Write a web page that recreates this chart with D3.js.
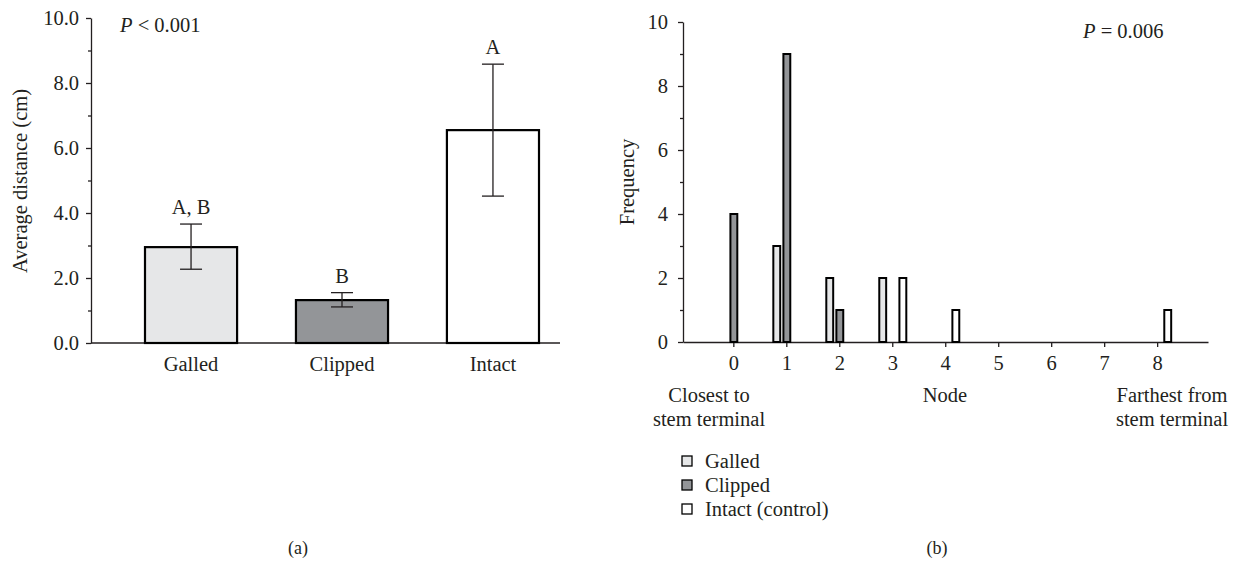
<!DOCTYPE html>
<html>
<head>
<meta charset="utf-8">
<script src="https://cdn.jsdelivr.net/npm/d3@7/dist/d3.min.js"></script>
<style>
  body { margin: 0; background: #fff; }
  text { font-family: "Liberation Serif", "Times New Roman", serif; fill: #231f20; }
</style>
</head>
<body>
<div class="chart"></div>
<script>
// panel (a) data
const groups = ["Galled", "Clipped", "Intact"];
const meanDist = [2.95, 1.32, 6.55];
const errLow = [2.27, 1.11, 4.52];
const errHigh = [3.66, 1.55, 8.58];
const sigLetters = ["A, B", "B", "A"];
const distTicks = [0, 2, 4, 6, 8, 10];

// panel (b) data
const nodes = [0, 1, 2, 3, 4, 5, 6, 7, 8];
const galledFreq = [0, 3, 2, 2, 0, 0, 0, 0, 0];
const clippedFreq = [4, 9, 1, 0, 0, 0, 0, 0, 0];
const intactFreq = [0, 0, 0, 2, 1, 0, 0, 0, 1];
const freqTicks = [0, 2, 4, 6, 8, 10];
const legendLabels = ["Galled", "Clipped", "Intact (control)"];

const fills = ["#e6e7e8", "#939598", "#ffffff"];
const ink = "#231f20";
const fs = "20.5px";

const svg = d3.select(".chart").append("svg")
  .attr("width", 1239)
  .attr("height", 564);

// ---------- panel (a) ----------
let yA = d3.scaleLinear().domain([0, 10]).range([343, 18]);
let xA = d3.scaleBand().domain(groups).range([145, 539]).paddingInner(0.39).paddingOuter(0);

let gA = svg.append("g").attr("id", "panel-a");

// minor ticks
gA.append("g")
  .attr("transform", "translate(91,0)")
  .call(d3.axisLeft(yA).tickValues([1, 3, 5, 7, 9]).tickSize(3).tickFormat(""))
  .call(g => g.select(".domain").remove());

let yAxisA = gA.append("g")
  .attr("transform", "translate(91,0)")
  .call(d3.axisLeft(yA).tickValues(distTicks).tickSize(5).tickSizeOuter(0).tickPadding(7)
    .tickFormat(d3.format(".1f")));
yAxisA.selectAll("text").style("font-size", fs).style("font-family", null);

gA.append("line")
  .attr("x1", 91).attr("x2", 560)
  .attr("y1", yA(0)).attr("y2", yA(0))
  .attr("stroke", ink).attr("stroke-width", 1.3);

let xAxisA = gA.append("g")
  .attr("transform", "translate(0," + yA(0) + ")")
  .call(d3.axisBottom(xA).tickSize(0).tickPadding(13));
xAxisA.select(".domain").remove();
xAxisA.selectAll("text").style("font-size", fs).style("font-family", null);

gA.selectAll("path.domain, .tick line").attr("stroke", ink).attr("stroke-width", 1.3);

gA.selectAll(".bar")
  .data(groups)
  .enter().append("rect")
    .attr("class", "bar")
    .attr("x", d => xA(d))
    .attr("width", xA.bandwidth())
    .attr("y", (d, i) => yA(meanDist[i]))
    .attr("height", (d, i) => yA(0) - yA(meanDist[i]))
    .attr("fill", (d, i) => fills[i])
    .attr("stroke", "#000")
    .attr("stroke-width", 2.2);

let err = gA.selectAll(".err")
  .data(groups)
  .enter().append("g")
    .attr("class", "err")
    .attr("transform", d => "translate(" + (xA(d) + xA.bandwidth() / 2) + ",0)");
err.append("line")
  .attr("y1", (d, i) => yA(errLow[i])).attr("y2", (d, i) => yA(errHigh[i]))
  .attr("stroke", ink).attr("stroke-width", 1.3);
err.append("line")
  .attr("x1", -11).attr("x2", 11)
  .attr("y1", (d, i) => yA(errLow[i])).attr("y2", (d, i) => yA(errLow[i]))
  .attr("stroke", ink).attr("stroke-width", 1.3);
err.append("line")
  .attr("x1", -11).attr("x2", 11)
  .attr("y1", (d, i) => yA(errHigh[i])).attr("y2", (d, i) => yA(errHigh[i]))
  .attr("stroke", ink).attr("stroke-width", 1.3);
err.append("text")
  .attr("y", (d, i) => yA(errHigh[i]) - 10)
  .attr("text-anchor", "middle")
  .style("font-size", fs)
  .text((d, i) => sigLetters[i]);

gA.append("text")
  .attr("transform", "translate(27,181) rotate(-90)")
  .attr("text-anchor", "middle")
  .style("font-size", fs)
  .text("Average distance (cm)");

let pA = gA.append("text").attr("x", 120).attr("y", 32).style("font-size", fs);
pA.append("tspan").style("font-style", "italic").text("P");
pA.append("tspan").text(" < 0.001");

gA.append("text")
  .attr("x", 298).attr("y", 554)
  .attr("text-anchor", "middle")
  .style("font-size", "18px")
  .text("(a)");

// ---------- panel (b) ----------
let xB = d3.scaleLinear().domain([-0.95, 8.96]).range([683, 1208]);
let yB = d3.scaleLinear().domain([0, 10]).range([342, 22]);

let gB = svg.append("g").attr("id", "panel-b");

gB.append("g")
  .attr("transform", "translate(683,0)")
  .call(d3.axisLeft(yB).tickValues([1, 3, 5, 7, 9]).tickSize(3).tickFormat(""))
  .call(g => g.select(".domain").remove());

let yAxisB = gB.append("g")
  .attr("transform", "translate(683,0)")
  .call(d3.axisLeft(yB).tickValues(freqTicks).tickSize(5).tickSizeOuter(0).tickPadding(10));
yAxisB.selectAll("text").style("font-size", fs).style("font-family", null);

let xAxisB = gB.append("g")
  .attr("transform", "translate(0," + yB(0) + ")")
  .call(d3.axisBottom(xB).tickValues(nodes).tickSize(5).tickSizeOuter(0).tickPadding(8)
    .tickFormat(d3.format("d")));
xAxisB.selectAll("text").style("font-size", fs).style("font-family", null);

gB.selectAll("path.domain, .tick line").attr("stroke", ink).attr("stroke-width", 1.3);

const series = [
  { name: "Galled", freq: galledFreq, shift: -0.18 },
  { name: "Clipped", freq: clippedFreq, shift: 0.01 },
  { name: "Intact", freq: intactFreq, shift: 0.2 }
];
const barW = 0.13;

series.forEach(function(s, si) {
  let pts = nodes.map((n, i) => ({ node: n, f: s.freq[i] })).filter(d => d.f > 0);
  gB.selectAll(".bar-" + s.name)
    .data(pts)
    .enter().append("rect")
      .attr("x", d => xB(d.node + s.shift - barW / 2))
      .attr("width", xB(barW) - xB(0))
      .attr("y", d => yB(d.f))
      .attr("height", d => yB(0) - yB(d.f))
      .attr("fill", fills[si])
      .attr("stroke", "#000")
      .attr("stroke-width", 2);
});

let pB = gB.append("text").attr("x", 1083).attr("y", 38).style("font-size", fs);
pB.append("tspan").style("font-style", "italic").text("P");
pB.append("tspan").text(" = 0.006");

gB.append("text")
  .attr("transform", "translate(634,182) rotate(-90)")
  .attr("text-anchor", "middle")
  .style("font-size", fs)
  .text("Frequency");

let closest = gB.append("text").attr("text-anchor", "middle").style("font-size", fs);
closest.append("tspan").attr("x", 709).attr("y", 402).text("Closest to");
closest.append("tspan").attr("x", 709).attr("y", 426).text("stem terminal");

gB.append("text")
  .attr("x", 945).attr("y", 402)
  .attr("text-anchor", "middle")
  .style("font-size", fs)
  .text("Node");

let farthest = gB.append("text").attr("text-anchor", "middle").style("font-size", fs);
farthest.append("tspan").attr("x", 1172).attr("y", 402).text("Farthest from");
farthest.append("tspan").attr("x", 1172).attr("y", 426).text("stem terminal");

let legend = gB.selectAll(".legend")
  .data(legendLabels)
  .enter().append("g")
    .attr("class", "legend")
    .attr("transform", (d, i) => "translate(682," + (456 + i * 24) + ")");
legend.append("rect")
  .attr("width", 10).attr("height", 10)
  .attr("fill", (d, i) => fills[i])
  .attr("stroke", "#000").attr("stroke-width", 1.3);
legend.append("text")
  .attr("x", 23).attr("y", 12)
  .style("font-size", fs)
  .text(d => d);

gB.append("text")
  .attr("x", 937).attr("y", 554)
  .attr("text-anchor", "middle")
  .style("font-size", "18px")
  .text("(b)");
</script>
</body>
</html>
